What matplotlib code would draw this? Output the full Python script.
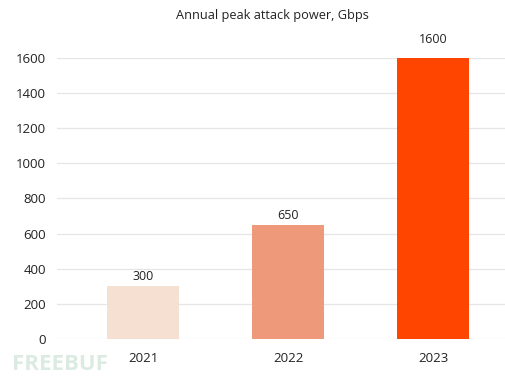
import matplotlib
matplotlib.use("Agg")
import matplotlib.pyplot as plt

years = ["2021", "2022", "2023"]
values = [300, 650, 1600]
colors = ["#F5E0D2", "#EE9A7A", "#FF4500"]
yticks = [0, 200, 400, 600, 800, 1000, 1200, 1400, 1600]

plt.rcParams['font.family'] = ['Open Sans', 'DejaVu Sans']

fig = plt.figure(figsize=(5.06, 3.77), dpi=100)
ax = fig.add_axes([57/506, (377-339)/377, 1 - 57/506, (339-58)/377])

x = list(range(len(years)))
bars = ax.bar(x, values, width=0.5, color=colors, zorder=3)
for xi, v in zip(x, values):
    ax.annotate(str(v), (xi, v), xytext=(0, 7 if v < 1600 else 13), textcoords='offset points',
                ha='center', va='center', fontsize=9, color='#222222', annotation_clip=False)

ax.set_xlim(-0.593, 2.503)
ax.set_ylim(0, 1600)
ax.set_yticks(yticks)
ax.set_xticks(x)
ax.set_xticklabels(years)
ax.tick_params(axis='both', length=0, labelsize=9.5, colors='#222222')
ax.tick_params(axis='x', pad=9)
ax.tick_params(axis='y', pad=8)
ax.grid(axis='y', color='#e6e6e6', linewidth=0.9, zorder=0)
for s in ax.spines.values():
    s.set_visible(False)

fig.text(272/506, 1 - 15/377, "Annual peak attack power, Gbps", ha='center', va='center',
         fontsize=9.2, color='#222222')
fig.text(12/506, 1 - 364/377, "FREEBUF", ha='left', va='center', fontsize=16,
         fontweight='bold', color='#d3e6da', alpha=0.8, zorder=0)

fig.savefig("out.png", dpi=100)
